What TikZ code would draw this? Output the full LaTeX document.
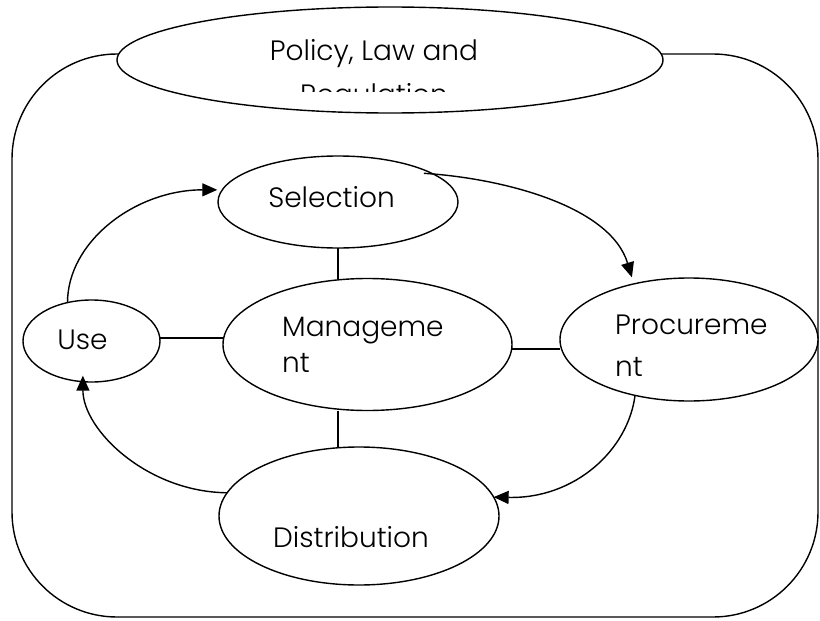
\documentclass[tikz,border=0pt]{standalone}
\usepackage{fontspec}
\setmainfont{Poppins Light}
\usetikzlibrary{shapes.geometric,arrows.meta}
\begin{document}
\begin{tikzpicture}[x=1pt,y=-1pt,
  ell/.style={draw,ellipse,line width=1.4pt,fill=white,inner sep=0pt,outer sep=0pt},
  conn/.style={line width=1.4pt},
  arr/.style={line width=1.4pt,-{Triangle[length=15pt,width=13pt]}},
  lbl/.style={font=\fontsize{28}{30}\selectfont,inner sep=0pt}]
\useasboundingbox (0,0) rectangle (820,621);
\draw[line width=1.4pt, rounded corners=105pt] (12,54) rectangle (818,617);
\node[ell,minimum width=546pt,minimum height=106pt] (pol) at (390,60) {};
\begin{scope}
\clip (117,0) rectangle (663,91);
\node[lbl,anchor=base] (polt) at (374,60) {Policy, Law and};
\node[lbl,anchor=base] (regt) at (374,104) {Regulation};
\end{scope}
\node[ell,minimum width=240pt,minimum height=92pt] (sel) at (338,202) {};
\node[ell,minimum width=289pt,minimum height=132pt] (mgmt) at (367.5,344.5) {};
\node[ell,minimum width=258pt,minimum height=123pt] (proc) at (689,339.5) {};
\node[ell,minimum width=137pt,minimum height=82pt] (use) at (91.5,341) {};
\node[ell,minimum width=280pt,minimum height=138pt] (dist) at (359,516) {};
\node[lbl,anchor=base] (selt) at (331.5,207) {Selection};
\node[lbl,anchor=base west] (mgt1) at (282,336) {Manageme};
\node[lbl,anchor=base west] (mgt2) at (282,372) {nt};
\node[lbl,anchor=base west] (prt1) at (615,334) {Procureme};
\node[lbl,anchor=base west] (prt2) at (615,376) {nt};
\node[lbl,anchor=base] (uset) at (82.5,349) {Use};
\node[lbl,anchor=base] (dstt) at (351,547) {Distribution};
\draw[conn] (sel.south) -- (sel.south |- mgmt.north);
\draw[conn] (mgmt.south -| sel.south) -- (dist.north -| sel.south);
\draw[conn] ([yshift=3pt]use.east) -- ([yshift=3pt]use.east -| mgmt.west);
\draw[conn] ([yshift=-4.5pt]mgmt.east) -- ([yshift=-4.5pt]mgmt.east -| proc.west);
\draw[arr] (use.122) .. controls +(0,-61) and +(-82,0) .. ([xshift=-5pt]sel.174);
\draw[arr] ([xshift=-8pt]sel.17) .. controls (500,178) and (610,205) .. ([yshift=7pt]proc.136);
\draw[arr] (proc.226) .. controls (628,450) and (575,499) .. (dist.8);
\draw[arr] (dist.170) .. controls (147,492) and (83,430) .. ([yshift=6pt]use.258);
\end{tikzpicture}
\end{document}
